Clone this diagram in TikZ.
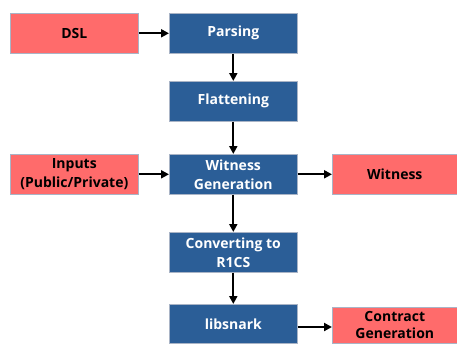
\documentclass[tikz,border=0pt]{standalone}
\usepackage{fontspec}
\setmainfont{Open Sans}
\usetikzlibrary{arrows.meta}
\definecolor{boxred}{HTML}{FF6B6B}
\definecolor{boxblue}{HTML}{2B5E97}
\definecolor{edgegray}{HTML}{A9B4C6}
\begin{document}
\begin{tikzpicture}[x=1pt,y=-1pt,
  base/.style={draw=edgegray, line width=0.6pt, minimum width=128pt, minimum height=40pt,
     inner sep=0pt, align=center, font=\fontsize{14}{19}\selectfont\bfseries, anchor=north west},
  redbox/.style={base, fill=boxred, text=black},
  bluebox/.style={base, fill=boxblue, text=white},
  arr/.style={-{Triangle[length=8pt,width=8pt]}, line width=2pt, black}]
\useasboundingbox (0,0) rectangle (457,343);
\node[redbox] (dsl) at (10,13) {DSL};
\node[bluebox] (parse) at (169,13) {Parsing};
\node[bluebox] (flat) at (169,81) {Flattening};
\node[redbox] (inputs) at (10,154) {Inputs\\(Public/Private)};
\node[bluebox] (wgen) at (169,154) {Witness\\Generation};
\node[redbox, minimum width=125pt] (wit) at (332,154) {Witness};
\node[bluebox] (conv) at (169,232) {Converting to\\R1CS};
\node[bluebox, minimum height=39pt] (lib) at (169,304) {libsnark};
\node[redbox, minimum width=125pt, minimum height=36pt,
      font=\fontsize{14}{17}\selectfont\bfseries] (contract) at (332,307) {Contract\\Generation};
\draw[arr] (dsl) -- (parse);
\draw[arr] (parse) -- (flat);
\draw[arr] (flat) -- (wgen);
\draw[arr] (inputs) -- (wgen);
\draw[arr] (wgen) -- (wit);
\draw[arr] (wgen) -- (conv);
\draw[arr] (conv) -- (lib);
\draw[arr] (lib.east |- 0,327) -- (contract.west |- 0,327);
\end{tikzpicture}
\end{document}
